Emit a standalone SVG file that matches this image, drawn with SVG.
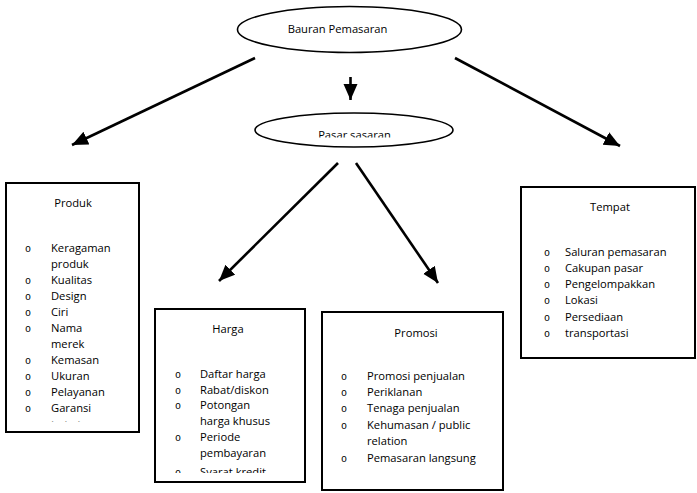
<svg xmlns="http://www.w3.org/2000/svg" width="697" height="493" viewBox="0 0 697 493">
<style>
text{font-family:"Open Sans","Noto Sans",sans-serif;font-size:11.2px;fill:#000}
.t{text-anchor:middle}
.b{font-family:"Liberation Mono",monospace;font-size:10px;text-anchor:middle}
.box{fill:#fff;stroke:#000;stroke-width:2}
.ell{fill:#fff;stroke:#000;stroke-width:1.6}
.arr{stroke:#000;stroke-width:2.6;fill:none;marker-end:url(#ah)}
</style>
<defs>
<marker id="ah" markerUnits="userSpaceOnUse" markerWidth="18" markerHeight="16" refX="16" refY="7" orient="auto"><path d="M0,0 L16,7 L0,14 z" fill="#000"/></marker>
<clipPath id="cpPasar"><rect x="250" y="110" width="210" height="27.5"/></clipPath>
<clipPath id="cpProduk"><rect x="7" y="184" width="131" height="237.5"/></clipPath>
<clipPath id="cpHarga"><rect x="156" y="310" width="148" height="163"/></clipPath>
</defs>
<rect width="697" height="493" fill="#fff"/>
<g id="connectors">
<line class="arr" x1="255" y1="58" x2="72" y2="145"/>
<line class="arr" x1="455" y1="58" x2="620" y2="146"/>
<line class="arr" x1="350.5" y1="77" x2="350.5" y2="100"/>
<line class="arr" x1="338" y1="163" x2="219" y2="281"/>
<line class="arr" x1="356" y1="163" x2="438" y2="283"/>
</g>
<g id="bauran">
<ellipse class="ell" cx="349.5" cy="29.5" rx="112" ry="23"/>
<text class="t" x="337.5" y="33">Bauran Pemasaran</text>
</g>
<g id="pasar">
<ellipse class="ell" cx="354" cy="130" rx="99" ry="17"/>
<text class="t" x="354.5" y="138.5" clip-path="url(#cpPasar)">Pasar sasaran</text>
</g>
<g id="produk">
<rect class="box" x="6" y="183" width="133" height="249"/>
<text class="t" x="73" y="207">Produk</text>
<g clip-path="url(#cpProduk)">
<text class="b" x="28" y="252">o</text><text x="51" y="252">Keragaman</text>
<text x="51" y="268">produk</text>
<text class="b" x="28" y="284">o</text><text x="51" y="284">Kualitas</text>
<text class="b" x="28" y="300">o</text><text x="51" y="300">Design</text>
<text class="b" x="28" y="316">o</text><text x="51" y="316">Ciri</text>
<text class="b" x="28" y="332">o</text><text x="51" y="332">Nama</text>
<text x="51" y="348">merek</text>
<text class="b" x="28" y="364">o</text><text x="51" y="364">Kemasan</text>
<text class="b" x="28" y="380">o</text><text x="51" y="380">Ukuran</text>
<text class="b" x="28" y="396">o</text><text x="51" y="396">Pelayanan</text>
<text class="b" x="28" y="412">o</text><text x="51" y="412">Garansi</text>
<text class="b" x="28" y="428.5">o</text><text x="51" y="428.5">Imbalan</text>
</g>
</g>
<g id="harga">
<rect class="box" x="155" y="309" width="150" height="173"/>
<text class="t" x="228" y="333">Harga</text>
<g clip-path="url(#cpHarga)">
<text class="b" x="178" y="378">o</text><text x="200" y="378">Daftar harga</text>
<text class="b" x="178" y="393.5">o</text><text x="200" y="393.5">Rabat/diskon</text>
<text class="b" x="178" y="409">o</text><text x="200" y="409">Potongan</text>
<text x="200" y="425">harga khusus</text>
<text class="b" x="178" y="441">o</text><text x="200" y="441">Periode</text>
<text x="200" y="456.5">pembayaran</text>
<text class="b" x="178" y="476">o</text><text x="200" y="476">Syarat kredit</text>
</g>
</g>
<g id="promosi">
<rect class="box" x="322" y="312" width="181" height="178"/>
<text class="t" x="416" y="337">Promosi</text>
<text class="b" x="344" y="380">o</text><text x="367" y="380">Promosi penjualan</text>
<text class="b" x="344" y="396">o</text><text x="367" y="396">Periklanan</text>
<text class="b" x="344" y="412">o</text><text x="367" y="412">Tenaga penjualan</text>
<text class="b" x="344" y="429">o</text><text x="367" y="429">Kehumasan / public</text>
<text x="367" y="445">relation</text>
<text class="b" x="344" y="462">o</text><text x="367" y="462">Pemasaran langsung</text>
</g>
<g id="tempat">
<rect class="box" x="521" y="187" width="174" height="171"/>
<text class="t" x="610" y="211">Tempat</text>
<text class="b" x="547" y="256">o</text><text x="565" y="256">Saluran pemasaran</text>
<text class="b" x="547" y="272">o</text><text x="565" y="272">Cakupan pasar</text>
<text class="b" x="547" y="288">o</text><text x="565" y="288">Pengelompakkan</text>
<text class="b" x="547" y="304">o</text><text x="565" y="304">Lokasi</text>
<text class="b" x="547" y="321">o</text><text x="565" y="321">Persediaan</text>
<text class="b" x="547" y="337">o</text><text x="565" y="337">transportasi</text>
</g>
</svg>
